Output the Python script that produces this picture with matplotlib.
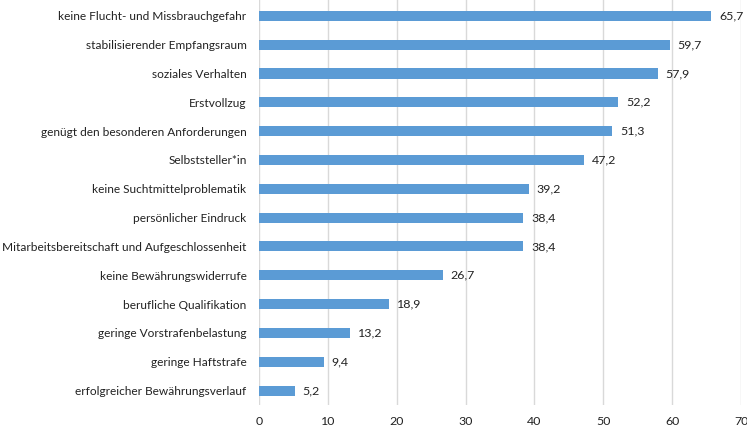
import numpy as np
from matplotlib import pyplot as plt

labels = ["keine Flucht- und Missbrauchgefahr",
          "stabilisierender Empfangsraum",
          "soziales Verhalten",
          "Erstvollzug",
          "genügt den besonderen Anforderungen",
          "Selbststeller*in",
          "keine Suchtmittelproblematik",
          "persönlicher Eindruck",
          "Mitarbeitsbereitschaft und Aufgeschlossenheit",
          "keine Bewährungswiderrufe",
          "berufliche Qualifikation",
          "geringe Vorstrafenbelastung",
          "geringe Haftstrafe",
          "erfolgreicher Bewährungsverlauf"]
values = [65.7, 59.7, 57.9, 52.2, 51.3, 47.2, 39.2, 38.4, 38.4, 26.7, 18.9, 13.2, 9.4, 5.2]
xticks = [0, 10, 20, 30, 40, 50, 60, 70]

plt.rcParams['font.family'] = ['Lato', 'DejaVu Sans']
fs = 8.6

fig = plt.figure(figsize=(7.47, 4.29), dpi=100)
ax = fig.add_axes([0.3467, 0.056, 0.992 - 0.3467, 0.944])

y = np.arange(len(labels))
ax.barh(y, values, height=0.35, color="#5B9BD5", zorder=3)
for yi, v in zip(y, values):
    ax.text(v + 1.1, yi, f"{v:.1f}".replace(".", ","), va="center", ha="left",
            fontsize=fs + 0.3, color="#222222")

ax.set_yticks(y)
ax.set_yticklabels(labels, fontsize=fs, color="#222222")
ax.set_xticks(xticks)
ax.set_xticklabels([str(t) for t in xticks], fontsize=fs + 0.3, color="#222222")
ax.set_xlim(0, 70)
ax.set_ylim(len(labels) - 0.5, -0.55)
ax.grid(axis="x", color="#D9D9D9", linewidth=1, zorder=0)
for s in ax.spines.values():
    s.set_visible(False)
ax.tick_params(axis="both", length=0)
ax.tick_params(axis="y", pad=9)
ax.tick_params(axis="x", pad=8)

plt.savefig("out.png", dpi=100)
